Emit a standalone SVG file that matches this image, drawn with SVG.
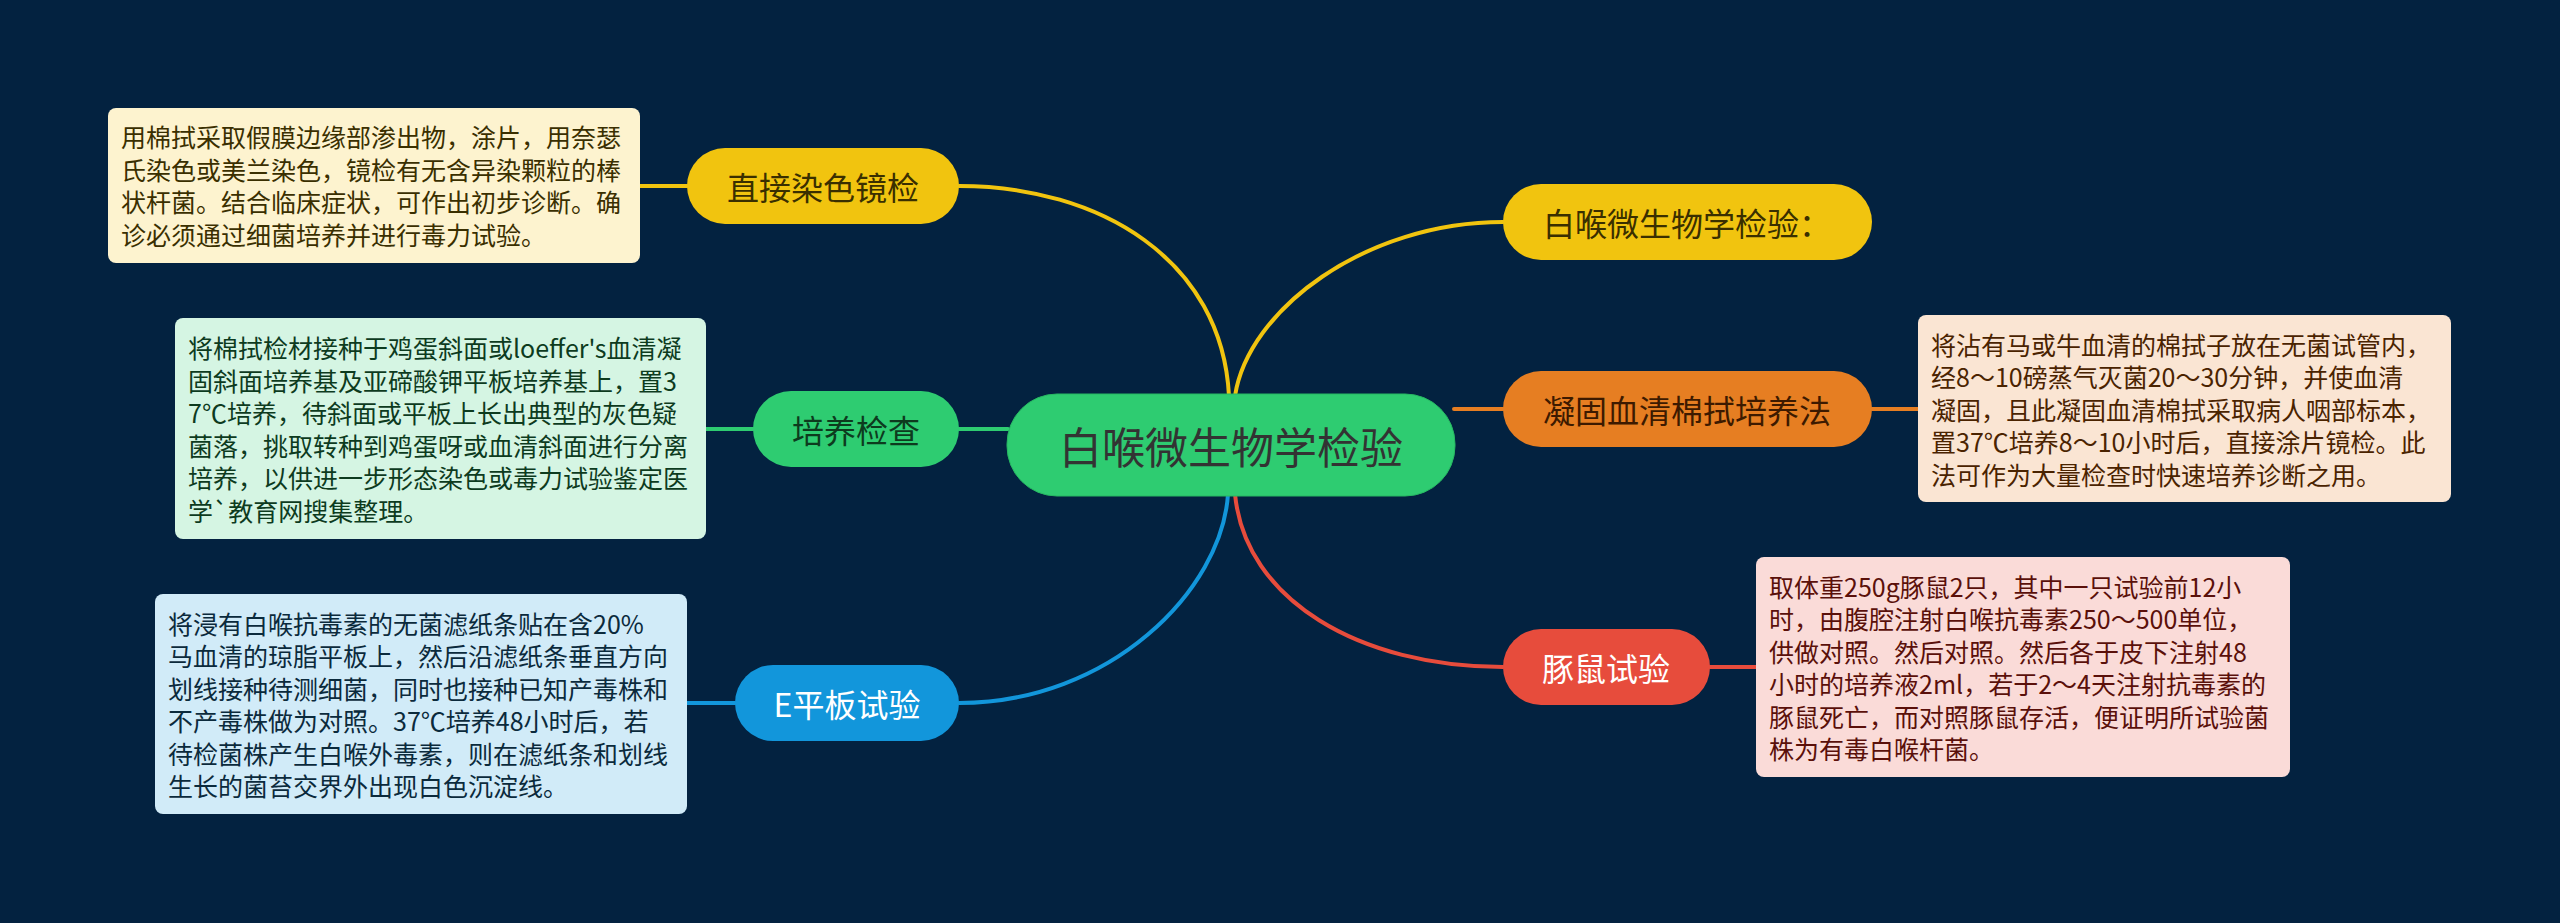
<svg xmlns="http://www.w3.org/2000/svg" width="2560" height="923" viewBox="0 0 2560 923">
<style>
text{font-family:"Noto Sans CJK SC","Noto Sans",sans-serif;}
.lbl{font-size:32px;text-anchor:middle;dominant-baseline:central;}
.note{font-size:25px;dominant-baseline:central;}
.ln{fill:none;stroke-width:4;stroke-linecap:round;}
</style>
<rect width="2560" height="923" fill="#032240"/>
<g id="connectors">
<path class="ln" stroke="#f1c40f" d="M959,186 C1100,186 1222,260 1229,396"/>
<path class="ln" stroke="#f1c40f" d="M1235,396 C1248,310 1365,222 1503,222"/>
<path class="ln" stroke="#f1c40f" d="M687,186 L640,186"/>
<path class="ln" stroke="#2ecc71" d="M1008,429 L959,429"/>
<path class="ln" stroke="#2ecc71" d="M753,429 L706,429"/>
<path class="ln" stroke="#1296db" d="M1228,494 C1222,590 1110,703 959,703"/>
<path class="ln" stroke="#1296db" d="M735,703 L687,703"/>
<path class="ln" stroke="#e67e22" d="M1454,409 L1503,409"/>
<path class="ln" stroke="#e67e22" d="M1872,409 L1918,409"/>
<path class="ln" stroke="#e74c3c" d="M1235,494 C1245,600 1360,667 1503,667"/>
<path class="ln" stroke="#e74c3c" d="M1710,667 L1756,667"/>
</g>
<g id="center">
<rect x="1007" y="394" width="448" height="102" rx="50" fill="#2ecc71" stroke="#27b862" stroke-width="1"/>
<text x="1231" y="445" font-size="43" text-anchor="middle" dominant-baseline="central" fill="#333333">白喉微生物学检验</text>
</g>
<g id="n-zhijie">
<rect x="687" y="148" width="272" height="76" rx="38" fill="#f1c40f"/>
<text class="lbl" x="823" y="186" fill="#3a2f00">直接染色镜检</text>
</g>
<g id="n-peiyang">
<rect x="753" y="391" width="206" height="76" rx="38" fill="#2ecc71"/>
<text class="lbl" x="856" y="429" fill="#0d3b1e">培养检查</text>
</g>
<g id="n-eping">
<rect x="735" y="665" width="224" height="76" rx="38" fill="#1296db"/>
<text class="lbl" x="847" y="703" fill="#ffffff">E平板试验</text>
</g>
<g id="n-title2">
<rect x="1503" y="184" width="369" height="76" rx="38" fill="#f1c40f"/>
<text class="lbl" x="1687" y="222" fill="#3a2f00">白喉微生物学检验：</text>
</g>
<g id="n-ninggu">
<rect x="1503" y="371" width="369" height="76" rx="38" fill="#e67e22"/>
<text class="lbl" x="1687" y="409" fill="#3d1a00">凝固血清棉拭培养法</text>
</g>
<g id="n-tunshu">
<rect x="1503" y="629" width="207" height="76" rx="38" fill="#e74c3c"/>
<text class="lbl" x="1606" y="667" fill="#ffffff">豚鼠试验</text>
</g>
<g id="note1">
<rect x="108" y="108" width="532" height="155" rx="8" fill="#fdf3cf"/>
<text class="note" fill="#3a2f00"><tspan x="121" y="136">用棉拭采取假膜边缘部渗出物，涂片，用奈瑟</tspan><tspan x="121" y="168.5">氏染色或美兰染色，镜检有无含异染颗粒的棒</tspan><tspan x="121" y="201">状杆菌。结合临床症状，可作出初步诊断。确</tspan><tspan x="121" y="233.5">诊必须通过细菌培养并进行毒力试验。</tspan></text>
</g>
<g id="note2">
<rect x="175" y="318" width="531" height="221" rx="8" fill="#d5f5e3"/>
<text class="note" fill="#0d3b1e"><tspan x="188" y="347">将棉拭检材接种于鸡蛋斜面或loeffer's血清凝</tspan><tspan x="188" y="379.5">固斜面培养基及亚碲酸钾平板培养基上，置3</tspan><tspan x="188" y="412">7℃培养，待斜面或平板上长出典型的灰色疑</tspan><tspan x="188" y="444.5">菌落，挑取转种到鸡蛋呀或血清斜面进行分离</tspan><tspan x="188" y="477">培养，以供进一步形态染色或毒力试验鉴定医</tspan><tspan x="188" y="509.5">学`教育网搜集整理。</tspan></text>
</g>
<g id="note3">
<rect x="155" y="594" width="532" height="220" rx="8" fill="#d1ebf8"/>
<text class="note" fill="#0b2a3c"><tspan x="168" y="622.5">将浸有白喉抗毒素的无菌滤纸条贴在含20%</tspan><tspan x="168" y="655">马血清的琼脂平板上，然后沿滤纸条垂直方向</tspan><tspan x="168" y="687.5">划线接种待测细菌，同时也接种已知产毒株和</tspan><tspan x="168" y="720">不产毒株做为对照。37℃培养48小时后，若</tspan><tspan x="168" y="752.5">待检菌株产生白喉外毒素，则在滤纸条和划线</tspan><tspan x="168" y="785">生长的菌苔交界外出现白色沉淀线。</tspan></text>
</g>
<g id="note4">
<rect x="1918" y="315" width="533" height="187" rx="8" fill="#fae5d3"/>
<text class="note" fill="#4a2300"><tspan x="1931" y="343.5">将沾有马或牛血清的棉拭子放在无菌试管内，</tspan><tspan x="1931" y="376">经8～10磅蒸气灭菌20～30分钟，并使血清</tspan><tspan x="1931" y="408.5">凝固，且此凝固血清棉拭采取病人咽部标本，</tspan><tspan x="1931" y="441">置37℃培养8～10小时后，直接涂片镜检。此</tspan><tspan x="1931" y="473.5">法可作为大量检查时快速培养诊断之用。</tspan></text>
</g>
<g id="note5">
<rect x="1756" y="557" width="534" height="220" rx="8" fill="#fadbd8"/>
<text class="note" fill="#5a100a"><tspan x="1769" y="585.5">取体重250g豚鼠2只，其中一只试验前12小</tspan><tspan x="1769" y="618">时，由腹腔注射白喉抗毒素250～500单位，</tspan><tspan x="1769" y="650.5">供做对照。然后对照。然后各于皮下注射48</tspan><tspan x="1769" y="683">小时的培养液2ml，若于2～4天注射抗毒素的</tspan><tspan x="1769" y="715.5">豚鼠死亡，而对照豚鼠存活，便证明所试验菌</tspan><tspan x="1769" y="748">株为有毒白喉杆菌。</tspan></text>
</g>
</svg>
